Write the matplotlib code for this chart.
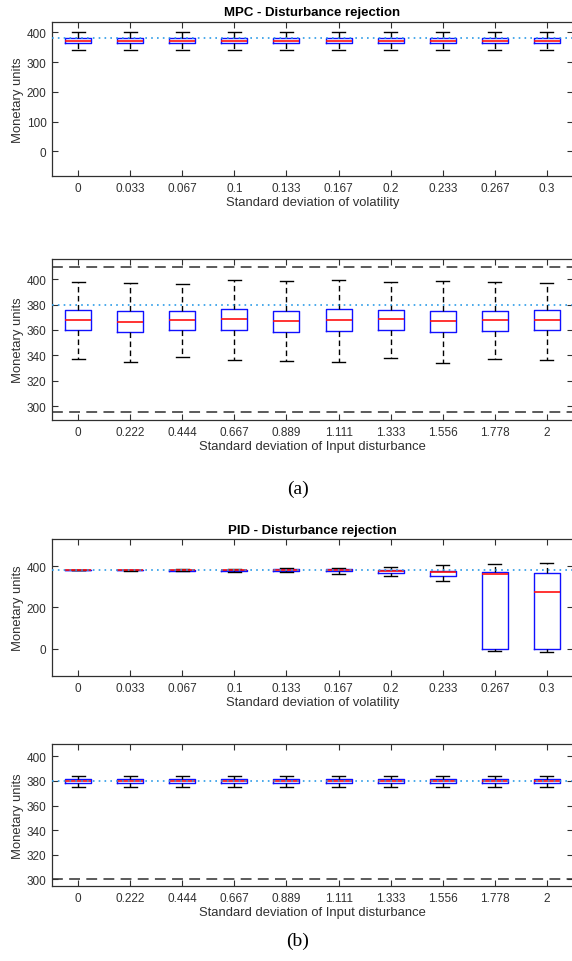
import matplotlib
matplotlib.use("Agg")
import matplotlib.pyplot as plt

plt.rcParams['font.family'] = ['Liberation Sans', 'DejaVu Sans']

vol_labels = ['0', '0.033', '0.067', '0.1', '0.133', '0.167', '0.2', '0.233', '0.267', '0.3']
inp_labels = ['0', '0.222', '0.444', '0.667', '0.889', '1.111', '1.333', '1.556', '1.778', '2']

# MPC - volatility
mpc_vol_whislo = [341, 341, 341, 341, 341, 341, 341, 341, 341, 341]
mpc_vol_q1     = [363, 363, 363, 363, 363, 363, 363, 363, 363, 363]
mpc_vol_med    = [370, 370, 370, 370, 370, 371, 370, 370, 371, 370]
mpc_vol_q3     = [380, 380, 380, 380, 380, 381, 380, 380, 380, 380]
mpc_vol_whishi = [401, 401, 401, 401, 400, 401, 400, 401, 400, 401]

# MPC - input disturbance
mpc_inp_whislo = [336.8, 334.5, 338.7, 336.6, 335.8, 334.7, 337.6, 334.0, 336.8, 336.3]
mpc_inp_q1     = [359.7, 358.2, 360.0, 360.0, 358.7, 359.5, 360.3, 358.2, 359.2, 359.7]
mpc_inp_med    = [367.9, 366.0, 368.0, 368.4, 366.8, 368.2, 368.4, 367.1, 368.2, 367.9]
mpc_inp_q3     = [375.8, 375.0, 375.0, 376.3, 375.0, 376.3, 375.8, 375.0, 375.0, 375.5]
mpc_inp_whishi = [397.9, 397.4, 396.0, 399.7, 398.4, 399.7, 398.2, 398.7, 397.6, 397.4]

# PID - volatility
pid_vol_whislo = [379, 378, 375, 372, 370, 364, 353, 327.5, -11, -14.5]
pid_vol_q1     = [379.5, 379, 378, 377, 376, 374, 366, 353, 0, 0]
pid_vol_med    = [380, 380, 380, 380, 380, 379, 374.5, 369.6, 360, 276]
pid_vol_q3     = [380.5, 381, 382, 383, 384, 384, 382, 377, 372.6, 364.8]
pid_vol_whishi = [381, 382, 385, 388, 390, 393, 395, 406, 408, 414.6]

# PID - input disturbance
pid_inp_whislo = [375.4] * 10
pid_inp_q1     = [378.6] * 10
pid_inp_med    = [380.0] * 10
pid_inp_q3     = [381.4] * 10
pid_inp_whishi = [384.3] * 10

setpoint = 380
mpc_limits = [410, 295]
pid_limits = [300, 410]

W, H = 572, 962
fig = plt.figure(figsize=(W / 100, H / 100), dpi=100)

GRAY = '#303030'

def make_axes(top, bottom):
    return fig.add_axes([52 / W, 1 - bottom / H, 521 / W, (bottom - top) / H])

def draw(ax, lo, q1, med, q3, hi, labels, ylim, yticks, xlabel, title=None, limits=()):
    stats = []
    for i in range(len(labels)):
        stats.append(dict(whislo=lo[i], q1=q1[i], med=med[i], q3=q3[i], whishi=hi[i], fliers=[]))
    ax.bxp(stats, positions=range(1, len(labels) + 1), widths=0.5, capwidths=0.25,
           showfliers=False,
           boxprops=dict(color='#1010ff', linewidth=1.0),
           medianprops=dict(color='#ff1010', linewidth=1.2),
           whiskerprops=dict(color='black', linewidth=1.0, linestyle=(0, (4, 2.5))),
           capprops=dict(color='black', linewidth=1.0))
    for v in limits:
        ax.axhline(v, color='#4d4d4d', linewidth=1.3, linestyle=(0, (6, 3.5)), zorder=1)
    ax.axhline(setpoint, color='#2b9be8', linewidth=1.2, linestyle=(0, (1, 2.5)), zorder=5)
    ax.set_xlim(0.5, len(labels) + 0.5)
    ax.set_ylim(*ylim)
    ax.set_yticks(yticks)
    ax.set_xticks(range(1, len(labels) + 1))
    ax.set_xticklabels(labels)
    ax.tick_params(direction='in', length=4, width=0.8, colors=GRAY, labelsize=8.5,
                   top=True, right=True, pad=4)
    for s in ax.spines.values():
        s.set_color(GRAY)
        s.set_linewidth(0.9)
    ax.set_xlabel(xlabel, fontsize=9.4, color=GRAY, labelpad=2)
    ax.set_ylabel('Monetary units', fontsize=9.4, color=GRAY, labelpad=1.5)
    if title:
        ax.set_title(title, fontsize=9.5, fontweight='bold', color='black', pad=4.5)

ax1 = make_axes(22.7, 177)
draw(ax1, mpc_vol_whislo, mpc_vol_q1, mpc_vol_med, mpc_vol_q3, mpc_vol_whishi, vol_labels,
     (-83, 436), [0, 100, 200, 300, 400], 'Standard deviation of volatility',
     title='MPC - Disturbance rejection')

ax2 = make_axes(260, 421)
draw(ax2, mpc_inp_whislo, mpc_inp_q1, mpc_inp_med, mpc_inp_q3, mpc_inp_whishi, inp_labels,
     (289, 416), [300, 320, 340, 360, 380, 400], 'Standard deviation of Input disturbance',
     limits=mpc_limits)

ax3 = make_axes(540, 677)
draw(ax3, pid_vol_whislo, pid_vol_q1, pid_vol_med, pid_vol_q3, pid_vol_whishi, vol_labels,
     (-132, 531), [0, 200, 400], 'Standard deviation of volatility',
     title='PID - Disturbance rejection')

ax4 = make_axes(745, 887)
draw(ax4, pid_inp_whislo, pid_inp_q1, pid_inp_med, pid_inp_q3, pid_inp_whishi, inp_labels,
     (294.6, 410), [300, 320, 340, 360, 380, 400], 'Standard deviation of Input disturbance',
     limits=pid_limits)

fig.text(298 / W, 1 - 489 / H, '(a)', ha='center', va='center', fontsize=14,
         family=['Liberation Serif', 'DejaVu Serif'], color='black')
fig.text(298 / W, 1 - 941 / H, '(b)', ha='center', va='center', fontsize=14,
         family=['Liberation Serif', 'DejaVu Serif'], color='black')

fig.savefig('out.png', dpi=100)
